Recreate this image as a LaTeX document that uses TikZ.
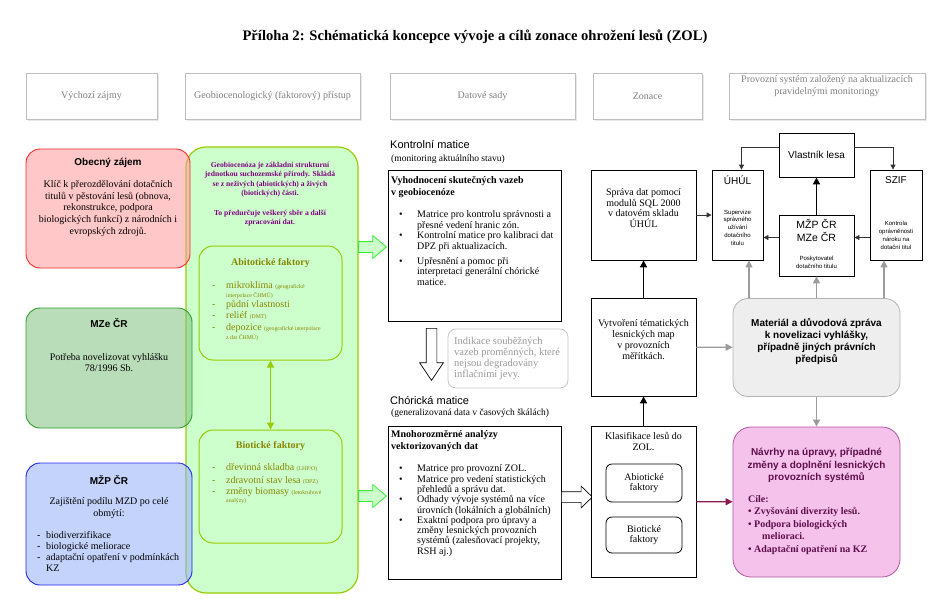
\documentclass[tikz,border=0pt]{standalone}
\usepackage{fontspec}
\setmainfont{Liberation Serif}
\setsansfont{Liberation Sans}
\usepackage{tikz}
\usetikzlibrary{arrows.meta,positioning,shapes,shapes.arrows,shadows}

\definecolor{obecfill}{HTML}{FF9999}
\definecolor{obecline}{HTML}{FF2A2A}
\definecolor{mzefill}{HTML}{80C080}
\definecolor{mzeline}{HTML}{2E9E2E}
\definecolor{mzpfill}{HTML}{94AEFA}
\definecolor{mzpline}{HTML}{2424F0}
\definecolor{geofill}{HTML}{CCFFCC}
\definecolor{geoline}{HTML}{99CC00}
\definecolor{geotext}{HTML}{800080}
\definecolor{faktext}{HTML}{868600}
\definecolor{blockline}{HTML}{33EE33}
\definecolor{matfill}{HTML}{EEEEEE}
\definecolor{matline}{HTML}{B4B4B4}
\definecolor{arrgray}{HTML}{9C9C9C}
\definecolor{navfill}{HTML}{F5C2EC}
\definecolor{navline}{HTML}{B055A0}
\definecolor{navtext}{HTML}{5E0F4A}
\definecolor{navarrow}{HTML}{8C1A50}

\begin{document}
\begin{tikzpicture}[x=1pt, y=-1pt,
    hdr/.style={draw=gray!50, fill=white, text=gray, align=center, font=\fontsize{10}{12}\selectfont, minimum height=46pt, drop shadow={opacity=0.18, shadow xshift=1.5pt, shadow yshift=-1.5pt}},
    zajem/.style={draw, line width=0.9pt, rounded corners=14pt, fill opacity=0.55},
    zttl/.style={font=\sffamily\bfseries\fontsize{10}{12}\selectfont, inner sep=0pt},
    ztxt/.style={font=\fontsize{10}{11.6}\selectfont, align=center, inner sep=0pt},
    fakt/.style={draw=geoline, line width=1pt, fill=geofill, rounded corners=14pt, minimum width=143pt},
    fttl/.style={font=\bfseries\fontsize{10}{12}\selectfont, text=faktext, inner sep=0pt},
    flist/.style={font=\fontsize{10}{11.5}\selectfont, text=faktext, inner sep=0pt, anchor=north west},
    blockarr/.style={single arrow, draw=blockline, fill=geofill, line width=0.8pt, inner sep=5pt, single arrow head extend=6pt, single arrow tip angle=80, minimum height=28pt, anchor=tail},
    hollow/.style={single arrow, draw, fill=white, line width=0.7pt, inner sep=5pt, anchor=tail},
    dbox/.style={draw, line width=0.8pt, fill=white},
    dhead/.style={font=\sffamily\fontsize{11}{13}\selectfont, inner sep=0pt, anchor=west},
    dsub/.style={font=\fontsize{9.5}{11}\selectfont, inner sep=0pt, anchor=west},
    dttl/.style={font=\bfseries\fontsize{10}{12}\selectfont, align=left, inner sep=0pt, anchor=west},
    dlist/.style={font=\fontsize{10}{10.5}\selectfont, inner sep=0pt, anchor=west},
    ztext/.style={font=\fontsize{10}{10.8}\selectfont, align=center, inner sep=0pt},
    pbox/.style={draw, line width=0.8pt, fill=white},
    pttl/.style={font=\sffamily\fontsize{10}{12}\selectfont, inner sep=0pt},
    ptiny/.style={font=\sffamily\fontsize{6}{7.8}\selectfont, align=center, inner sep=0pt},
    blackarr/.style={-{Triangle[width=5pt,length=5pt]}, line width=0.8pt, draw=black!80},
    thickarr/.style={-{Triangle[width=7pt,length=7pt]}, line width=1.8pt},
    grayarr/.style={-{Triangle[width=7pt,length=7pt]}, line width=1.2pt, draw=arrgray},
    navarr/.style={-{Triangle[width=7pt,length=7pt]}, line width=1.2pt, draw=navarrow},
    dblarr/.style={{Triangle[width=7pt,length=7pt]}-{Triangle[width=7pt,length=7pt]}, line width=1.5pt, draw=geoline}
  ]
    \useasboundingbox (0,0) rectangle (950,605);
    \node[font=\bfseries\fontsize{14.6}{16}\selectfont] (title) at (475,37) {Příloha 2: Schématická koncepce vývoje a cílů zonace ohrožení lesů (ZOL)};

    \node[hdr, minimum width=131pt] (hzajmy) at (91.5,96) {Výchozí zájmy};
    \node[hdr, minimum width=175pt] (hpristup) at (272.5,96) {Geobiocenologický (faktorový) přístup};
    \node[hdr, minimum width=185pt] (hdata) at (482.5,96) {Datové sady};
    \node[hdr, minimum width=109pt] (hzonace) at (647.5,96) {Zonace};
    \node[hdr, minimum width=196pt] (hprovoz) at (827,96) {};
    \node[font=\fontsize{10}{12}\selectfont, text=gray, align=center, inner sep=0pt] (hprovoztxt) at (827,86) {Provozní systém založený na aktualizacích\\pravidelnými monitoringy};

    \node[draw=geoline, line width=1.2pt, fill=geofill, rounded corners=20pt, minimum width=172pt, minimum height=446pt] (geo) at (272,370) {};
    \node[font=\bfseries\fontsize{7.6}{9.6}\selectfont, text=geotext, align=center, inner sep=0pt] (geotxt) at (270,194) {Geobiocenóza je základní strukturní\\jednotkou suchozemské přírody. Skládá\\se z neživých (abiotických) a živých\\(biotických) části.\\[9.6pt]To předurčuje veškerý sběr a další\\zpracování dat.};

    \node[fakt, minimum height=114pt] (abio) at (270.5,303) {};
    \node[fttl] (abiottl) at (270.5,263) {Abitotické faktory};
    \node[flist] (abiolist) at (212,280) {\begin{tabular}{@{}p{14pt}@{}l@{}}
      - & mikroklima \fontsize{5.8}{7}\selectfont(geografické\\[-2.5pt]
        & \fontsize{5.8}{7}\selectfont interpolace ČHMÚ)\\[-1.5pt]
      - & půdní vlastnosti\\[-0.5pt]
      - & reliéf \fontsize{5.8}{7}\selectfont(DMT)\\[0.5pt]
      - & depozice \fontsize{5.8}{7}\selectfont(geografické interpolace\\[-2.5pt]
        & \fontsize{5.8}{7}\selectfont z dat ČHMÚ)
    \end{tabular}};

    \node[fakt, minimum height=113pt] (bio) at (270.5,486.5) {};
    \node[fttl] (biottl) at (270.5,446) {Biotické faktory};
    \node[flist] (biolist) at (212,462.5) {\begin{tabular}{@{}p{14pt}@{}l@{}}
      - & dřevinná skladba \fontsize{5.8}{7}\selectfont(LHP/O)\\[1pt]
      - & zdravotní stav lesa \fontsize{5.8}{7}\selectfont(DPZ)\\
      - & změny biomasy \fontsize{5.8}{7}\selectfont(letokruhové\\[-3.5pt]
        & \fontsize{5.8}{7}\selectfont analýzy)
    \end{tabular}};
    \draw[dblarr] (abio) -- (bio);

    \node[zajem, draw=obecline, fill=obecfill, minimum width=164pt, minimum height=119pt] (obec) at (108,208.5) {};
    \node[zttl] (obecttl) at (108,163) {Obecný zájem};
    \node[ztxt] (obectxt) at (108,208.5) {Klíč k přerozdělování dotačních\\titulů v pěstování lesů (obnova,\\rekonstrukce, podpora\\biologických funkcí) z národních i\\evropských zdrojů.};
    \node[zajem, draw=mzeline, fill=mzefill, minimum width=166pt, minimum height=120pt] (mze) at (109,368) {};
    \node[zttl] (mzettl) at (109,323) {MZe ČR};
    \node[ztxt] (mzetxt) at (109,362.5) {Potřeba novelizovat vyhlášku\\78/1996 Sb.};
    \node[zajem, draw=mzpline, fill=mzpfill, minimum width=166pt, minimum height=122pt] (mzp) at (109,524) {};
    \node[zttl] (mzpttl) at (109,480) {MŽP ČR};
    \node[ztxt] (mzptxt) at (109,508) {Zajištění podílu MZD po celé\\obmýtí:};
    \node[ztxt, anchor=north west, font=\fontsize{10}{11}\selectfont] (mzplist) at (37,531) {\begin{tabular}{@{}p{9pt}@{}l@{}}
      - & biodiverzifikace\\
      - & biologické meliorace\\
      - & adaptační opatření v podmínkách\\
        & KZ
    \end{tabular}};

    \node[blockarr] (gtop) at (358,247) {};
    \node[blockarr] (gbot) at (358,496) {};

    \node[dhead] (kmhead) at (390,145) {Kontrolní matice};
    \node[dsub] (kmsub) at (391,159) {(monitoring aktuálního stavu)};
    \node[dbox, minimum width=173pt, minimum height=151pt] (km) at (474.5,245.5) {};
    \node[dttl] (kmttl) at (391,187) {Vyhodnocení skutečných vazeb\\v geobiocenóze};
    \node[dlist] (kmlist) at (399,249.5) {\begin{tabular}{@{}p{18pt}@{}l@{}}
      \textbullet & Matrice pro kontrolu správnosti a\\
                  & přesné vedení hranic zón.\\
      \textbullet & Kontrolní matice pro kalibraci dat\\
                  & DPZ při aktualizacích.\\[4.5pt]
      \textbullet & Upřesnění a pomoc při\\
                  & interpretaci generální chórické\\
                  & matice.
    \end{tabular}};

    \node[hollow, shape border rotate=270, minimum height=52pt, single arrow head extend=6.5pt, single arrow tip angle=68] (kmdown) at (431.5,328) {};
    \node[draw=gray!45, rounded corners=8pt, line width=0.8pt, minimum width=120pt, minimum height=59pt] (indik) at (508,358.5) {};
    \node[font=\fontsize{10.5}{11}\selectfont, text=gray!80, align=left, inner sep=0pt, anchor=west] (indiktxt) at (454,358.5) {Indikace souběžných\\vazeb proměnných, které\\nejsou degradovány\\inflačními jevy.};

    \node[dhead] (cmhead) at (390,400) {Chórická matice};
    \node[dsub] (cmsub) at (391,413) {(generalizovaná data v časových škálách)};
    \node[dbox, minimum width=173pt, minimum height=153pt] (cm) at (474.5,502.5) {};
    \node[dttl] (cmttl) at (391,441.5) {Mnohorozměrné analýzy\\vektorizovaných dat};
    \node[dlist, font=\fontsize{10}{10.25}\selectfont] (cmlist) at (399,511) {\begin{tabular}{@{}p{18pt}@{}l@{}}
      \textbullet & Matrice pro provozní ZOL.\\
      \textbullet & Matrice pro vedení statistických\\
                  & přehledů a správu dat.\\
      \textbullet & Odhady vývoje systémů na více\\
                  & úrovních (lokálních a globálních)\\
      \textbullet & Exaktní podpora pro úpravy a\\
                  & změny lesnických provozních\\
                  & systémů (zalesňovací projekty,\\
                  & RSH aj.)
    \end{tabular}};
    \node[hollow, minimum height=31pt, single arrow head extend=5.5pt, single arrow tip angle=88] (cmright) at (561,497) {};

    \node[dbox, minimum width=105pt, minimum height=90pt] (sprava) at (643.5,215) {};
    \node[ztext] (spravatxt) at (643.5,208) {Správa dat pomocí\\modulů SQL 2000\\v datovém skladu\\ÚHÚL};
    \node[dbox, minimum width=105pt, minimum height=98pt] (vytv) at (643.5,347) {};
    \node[ztext] (vytvtxt) at (643.5,339.5) {Vytvoření tématických\\lesnických map\\v provozních\\měřítkách.};
    \node[dbox, minimum width=105pt, minimum height=151pt] (klas) at (643.5,501.5) {};
    \node[ztext] (klastxt) at (643.5,441.5) {Klasifikace lesů do\\ZOL.};
    \node[dbox, ztext, rounded corners=6pt, minimum width=76pt, minimum height=38pt] (abiin) at (644,483) {Abiotické\\faktory};
    \node[dbox, ztext, rounded corners=6pt, minimum width=76pt, minimum height=36pt] (bioin) at (644,535) {Biotické\\faktory};

    \node[pbox, minimum width=75pt, minimum height=44pt, font=\sffamily\fontsize{10}{12}\selectfont] (vlast) at (816.5,155) {Vlastník lesa};
    \node[pbox, minimum width=51pt, minimum height=90pt] (uhul) at (737.5,215) {};
    \node[pttl] (uhulttl) at (737.5,180) {ÚHÚL};
    \node[ptiny] (uhultxt) at (737.5,227.5) {Supervize\\správného\\užívání\\dotačního\\titulu};
    \node[pbox, minimum width=52pt, minimum height=90pt] (szif) at (896,215) {};
    \node[pttl] (szifttl) at (896,180) {SZIF};
    \node[ptiny] (sziftxt) at (896,235.5) {Kontrola\\oprávněnosti\\nároku na\\dotační titul};
    \node[pbox, minimum width=75pt, minimum height=61pt] (mzpcr) at (816.5,245.5) {};
    \node[font=\sffamily\fontsize{10.5}{12.5}\selectfont, align=center, inner sep=0pt] (mzpcrttl) at (816.5,230.5) {MŽP ČR\\MZe ČR};
    \node[ptiny] (mzpcrtxt) at (816.5,262) {Poskytovatel\\dotačního titulu};

    \node[draw=matline, fill=matfill, line width=0.8pt, rounded corners=15pt, minimum width=167pt, minimum height=98pt] (material) at (816.5,347.5) {};
    \node[font=\sffamily\bfseries\fontsize{10}{12}\selectfont, align=center, inner sep=0pt] (materialtxt) at (816.5,341.5) {Materiál a důvodová zpráva\\k novelizaci vyhlášky,\\případně jiných právních\\předpisů};

    \node[draw=navline, fill=navfill, line width=0.8pt, rounded corners=18pt, minimum width=167pt, minimum height=150pt] (navrhy) at (816.5,502) {};
    \node[font=\sffamily\bfseries\fontsize{10}{12.5}\selectfont, text=navtext, align=center, inner sep=0pt] (navrhyttl) at (816.5,465.5) {Návrhy na úpravy, případné\\změny a doplnění lesnických\\provozních systémů};
    \node[font=\bfseries\fontsize{10}{12.5}\selectfont, text=navtext, align=left, inner sep=0pt, anchor=west] (cile) at (748,525) {Cíle:\\\textbullet\ Zvyšování diverzity lesů.\\\textbullet\ Podpora biologických\\\hspace*{14pt}melioraci.\\\textbullet\ Adaptační opatření na KZ};

    \draw[thickarr] (klas) -- (vytv);
    \draw[thickarr] (vytv) -- (sprava);
    \draw[blackarr] (sprava) -- (uhul);
    \draw[grayarr] (vytv) -- (material);
    \draw[navarr] (klas) -- (navrhy);
    \draw[thickarr] (mzpcr) -- (vlast);
    \coordinate (mzpl) at ([yshift=8pt]mzpcr.west);
    \draw[blackarr] (mzpl) -- (mzpl -| uhul.east);
    \draw[blackarr] (mzpl -| szif.west) -- (mzpl -| mzpcr.east);
    \draw[blackarr] ([yshift=8pt]vlast.west) -| ([xshift=4pt]uhul.north);
    \draw[blackarr] ([yshift=8pt]vlast.east) -| ([xshift=-3pt]szif.north);
    \path (uhul.south) ++(11.5,0) coordinate (uhulin);
    \path (szif.south) ++(-12,0) coordinate (szifin);
    \draw[grayarr] (uhulin |- material.north) -- (uhulin);
    \draw[grayarr] (material) -- (mzpcr);
    \draw[grayarr] (szifin |- material.north) -- (szifin);
    \draw[grayarr] (material) -- (navrhy);
  \end{tikzpicture}
\end{document}
